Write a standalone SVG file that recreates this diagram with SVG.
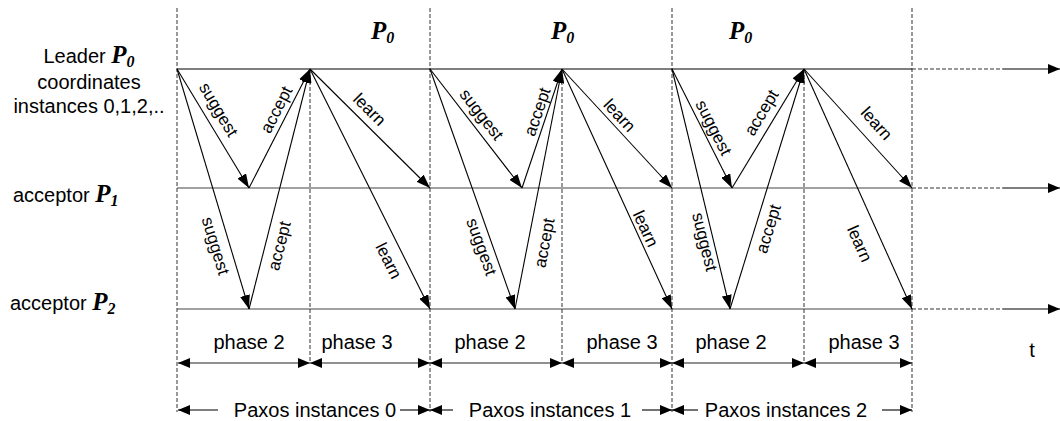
<svg xmlns="http://www.w3.org/2000/svg" width="1060" height="421" viewBox="0 0 1060 421">
<style>
.t{font-family:"Liberation Sans",Arial,sans-serif;font-size:20px;fill:#000}
.lbl{font-family:"Liberation Sans",Arial,sans-serif;font-size:17px;fill:#000;text-anchor:middle}
.p{font-family:"Liberation Serif","Times New Roman",serif;font-weight:bold;font-style:italic;font-size:25px}
.sub{font-size:16px}
.msg{stroke:#000;stroke-width:1.1;fill:none;marker-end:url(#ah)}
.dv{stroke:#333;stroke-width:1;stroke-dasharray:4,2;fill:none}
.tl{stroke:#000;stroke-width:1.2;fill:none}
.tl2{stroke:#444;stroke-width:1.2;fill:none}
.dh{stroke:#333;stroke-width:1.2;stroke-dasharray:4,2;fill:none}
.dbl{stroke:#222;stroke-width:1.1;fill:none;marker-start:url(#ah2);marker-end:url(#ah2)}
.one{stroke:#000;stroke-width:1.1;fill:none;marker-end:url(#ah2)}
</style>
<defs>
<marker id="ah" viewBox="0 0 14 10" refX="14" refY="5" markerWidth="14" markerHeight="10" orient="auto" markerUnits="userSpaceOnUse"><path d="M0,0 L14,5 L0,10 z" fill="#000"/></marker>
<marker id="ah2" viewBox="0 0 12 10" refX="12" refY="5" markerWidth="12" markerHeight="10" orient="auto-start-reverse" markerUnits="userSpaceOnUse"><path d="M0,0 L12,5 L0,10 z" fill="#000"/></marker>
</defs>
<rect width="1060" height="421" fill="#fff"/>

<g id="dividers">
<line class="dv" x1="177" y1="8" x2="177" y2="412"/>
<line class="dv" x1="430" y1="8" x2="430" y2="412"/>
<line class="dv" x1="672" y1="8" x2="672" y2="412"/>
<line class="dv" x1="912" y1="8" x2="912" y2="412"/>
<line class="dv" x1="310" y1="69" x2="310" y2="363"/>
<line class="dv" x1="562" y1="69" x2="562" y2="363"/>
<line class="dv" x1="804" y1="69" x2="804" y2="363"/>
</g>

<g id="timeline-P0">
<line class="tl" x1="177" y1="69" x2="912" y2="69"/>
<line class="dh" x1="912" y1="69" x2="1003" y2="69"/>
<line class="one" x1="1003" y1="69" x2="1060" y2="69"/>
<text class="t" x="89" y="63" text-anchor="middle">Leader <tspan class="p">P<tspan class="sub" dy="4">0</tspan></tspan></text>
<text class="t" x="89" y="89" text-anchor="middle">coordinates</text>
<text class="t" x="89" y="113" text-anchor="middle">instances 0,1,2,..</text>
<text class="p" x="371" y="39">P<tspan class="sub" dy="4">0</tspan></text>
<text class="p" x="551" y="39">P<tspan class="sub" dy="4">0</tspan></text>
<text class="p" x="729" y="39">P<tspan class="sub" dy="4">0</tspan></text>
</g>

<g id="timeline-P1">
<line class="tl2" x1="177" y1="188" x2="912" y2="188"/>
<line class="dh" x1="912" y1="188" x2="1003" y2="188"/>
<line class="one" x1="1003" y1="188" x2="1060" y2="188"/>
<text class="t" x="13" y="202">acceptor <tspan class="p">P<tspan class="sub" dy="4">1</tspan></tspan></text>
</g>

<g id="timeline-P2">
<line class="tl2" x1="177" y1="309" x2="912" y2="309"/>
<line class="dh" x1="912" y1="309" x2="1003" y2="309"/>
<line class="one" x1="1003" y1="309" x2="1060" y2="309"/>
<text class="t" x="10" y="310">acceptor <tspan class="p">P<tspan class="sub" dy="4">2</tspan></tspan></text>
</g>

<g id="connectors">
<line class="msg" x1="177" y1="69" x2="249" y2="188"/>
<line class="msg" x1="177" y1="69" x2="249" y2="309"/>
<line class="msg" x1="249" y1="188" x2="310" y2="69"/>
<line class="msg" x1="249" y1="309" x2="310" y2="69"/>
<line class="msg" x1="310" y1="69" x2="430" y2="188"/>
<line class="msg" x1="310" y1="69" x2="430" y2="309"/>
<line class="msg" x1="430" y1="69" x2="522" y2="188"/>
<line class="msg" x1="430" y1="69" x2="515" y2="309"/>
<line class="msg" x1="522" y1="188" x2="562" y2="69"/>
<line class="msg" x1="515" y1="309" x2="562" y2="69"/>
<line class="msg" x1="562" y1="69" x2="672" y2="188"/>
<line class="msg" x1="562" y1="69" x2="672" y2="309"/>
<line class="msg" x1="672" y1="69" x2="732" y2="188"/>
<line class="msg" x1="672" y1="69" x2="730" y2="309"/>
<line class="msg" x1="732" y1="188" x2="804" y2="69"/>
<line class="msg" x1="730" y1="309" x2="804" y2="69"/>
<line class="msg" x1="804" y1="69" x2="912" y2="188"/>
<line class="msg" x1="804" y1="69" x2="912" y2="309"/>
</g>

<g id="message-labels">
<text class="lbl" transform="translate(218,110) rotate(59)" y="5">suggest</text>
<text class="lbl" transform="translate(277,110) rotate(-63)" y="5">accept</text>
<text class="lbl" transform="translate(369,110) rotate(45)" y="5">learn</text>
<text class="lbl" transform="translate(215,246) rotate(73)" y="5">suggest</text>
<text class="lbl" transform="translate(280,246) rotate(-76)" y="5">accept</text>
<text class="lbl" transform="translate(388,261) rotate(63)" y="5">learn</text>
<text class="lbl" transform="translate(481,115) rotate(52)" y="5">suggest</text>
<text class="lbl" transform="translate(538,112) rotate(-71)" y="5">accept</text>
<text class="lbl" transform="translate(619,116) rotate(47)" y="5">learn</text>
<text class="lbl" transform="translate(481,247) rotate(70)" y="5">suggest</text>
<text class="lbl" transform="translate(545,243) rotate(-79)" y="5">accept</text>
<text class="lbl" transform="translate(645,229) rotate(65)" y="5">learn</text>
<text class="lbl" transform="translate(713,128) rotate(63)" y="5">suggest</text>
<text class="lbl" transform="translate(762,113) rotate(-59)" y="5">accept</text>
<text class="lbl" transform="translate(876,124) rotate(48)" y="5">learn</text>
<text class="lbl" transform="translate(704,242) rotate(76)" y="5">suggest</text>
<text class="lbl" transform="translate(769,229) rotate(-73)" y="5">accept</text>
<text class="lbl" transform="translate(859,244) rotate(66)" y="5">learn</text>
</g>

<g id="phases">
<line class="dbl" x1="178" y1="363" x2="310" y2="363"/>
<line class="dbl" x1="310" y1="363" x2="430" y2="363"/>
<line class="dbl" x1="430" y1="363" x2="562" y2="363"/>
<line class="dbl" x1="562" y1="363" x2="672" y2="363"/>
<line class="dbl" x1="672" y1="363" x2="804" y2="363"/>
<line class="dbl" x1="804" y1="363" x2="912" y2="363"/>
<text class="t" x="249" y="349" text-anchor="middle">phase 2</text>
<text class="t" x="357" y="349" text-anchor="middle">phase 3</text>
<text class="t" x="490" y="349" text-anchor="middle">phase 2</text>
<text class="t" x="622" y="349" text-anchor="middle">phase 3</text>
<text class="t" x="731" y="349" text-anchor="middle">phase 2</text>
<text class="t" x="864" y="349" text-anchor="middle">phase 3</text>
<text class="t" x="1032" y="357" text-anchor="middle">t</text>
</g>

<g id="instances">
<line class="one" x1="218" y1="410" x2="178" y2="410"/>
<line class="one" x1="400" y1="410" x2="430" y2="410"/>
<text class="t" x="315" y="417" text-anchor="middle">Paxos instances 0</text>
<line class="one" x1="453" y1="410" x2="430" y2="410"/>
<line class="one" x1="642" y1="410" x2="672" y2="410"/>
<text class="t" x="550" y="417" text-anchor="middle">Paxos instances 1</text>
<line class="one" x1="698" y1="410" x2="672" y2="410"/>
<line class="one" x1="882" y1="410" x2="912" y2="410"/>
<text class="t" x="786" y="417" text-anchor="middle">Paxos instances 2</text>
</g>
</svg>
